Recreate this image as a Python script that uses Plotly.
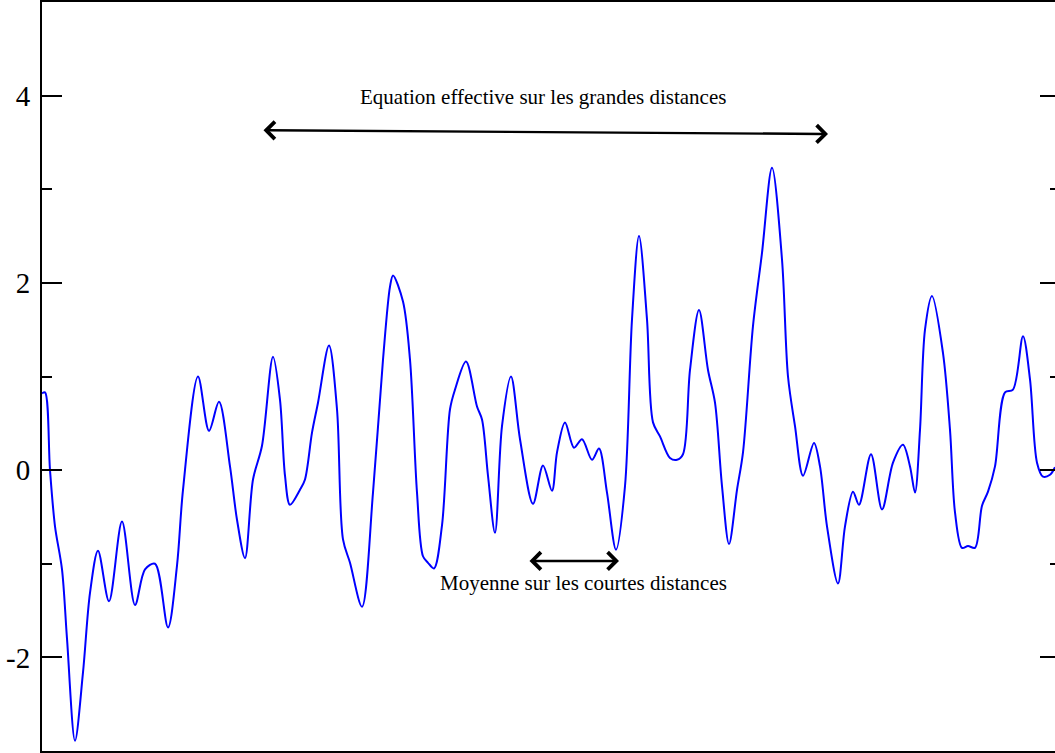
import plotly.graph_objects as go

# Signal sampled along the horizontal axis (arbitrary units)
x_pos = [0, 3, 8, 13, 20, 25, 33, 41, 48, 56, 67, 80, 93, 103, 113, 126, 135, 141, 156, 167,
         177, 188, 195, 203, 211, 220, 231, 238, 243, 248, 258, 263, 270, 276, 287, 295, 301, 308,
         320, 331, 341, 348, 351, 361, 368, 375, 381, 386, 392, 400, 408, 413, 424, 435, 440, 446,
         453, 460, 469, 478, 491, 501, 510, 515, 523, 532, 540, 550, 557, 565, 574, 583, 590, 597,
         605, 611, 618, 628, 635, 641, 648, 657, 666, 673, 680, 687, 695, 701, 711, 720, 730, 740,
         746, 753, 761, 772, 778, 785, 796, 803, 811, 817, 829, 840, 851, 861, 868, 873, 878, 883,
         890, 901, 908, 913, 920, 926, 933, 940, 946, 953, 963, 971, 981, 988, 995, 1001, 1008, 1013]
signal = [0.82, 0.83, 0.0, -0.6, -1.06, -1.8, -2.89, -2.16, -1.31, -0.86, -1.40, -0.55, -1.44,
          -1.06, -1.0, -1.68, -1.02, -0.21, 1.0, 0.42, 0.73, 0.04, -0.53, -0.94, -0.10, 0.26, 1.21,
          0.75, -0.06, -0.37, -0.21, -0.10, 0.40, 0.72, 1.33, 0.65, -0.74, -0.99, -1.46, -0.24, 1.18,
          1.96, 2.08, 1.80, 1.18, -0.24, -0.92, -0.99, -1.05, -0.59, 0.65, 0.86, 1.16, 0.68, 0.54,
          -0.06, -0.67, 0.47, 1.0, 0.33, -0.36, 0.05, -0.22, 0.19, 0.51, 0.24, 0.33, 0.11, 0.23,
          -0.24, -0.85, -0.17, 1.61, 2.50, 1.61, 0.51, 0.36, 0.13, 0.11, 0.17, 1.07, 1.71, 1.07,
          0.72, -0.17, -0.79, -0.21, 0.19, 1.54, 2.32, 3.23, 2.25, 1.0, 0.47, -0.06, 0.29, 0.04,
          -0.60, -1.21, -0.60, -0.23, -0.37, 0.17, -0.42, 0.08, 0.27, 0.04, -0.24, 0.43, 1.50, 1.86,
          1.25, 0.43, -0.45, -0.83, -0.81, -0.83, -0.38, -0.23, 0.04, 0.83, 0.86, 1.43, 0.97, 0.08,
          -0.07, -0.05, 0.03]

y_major = [-2, 0, 2, 4]
y_labels = ["-2", "0", "2", "4"]
y_minor = [-1, 1, 3]
y_range = [-3, 5]
x_range = [0, 1013]

label_long = "Equation effective sur les grandes distances"
label_short = "Moyenne sur les courtes distances"

serif = "Liberation Serif, Times New Roman, serif"

fig = go.Figure()
fig.add_trace(go.Scatter(x=x_pos, y=signal, mode="lines",
                         line=dict(color="#0000ff", width=2, shape="spline", smoothing=0.9),
                         hoverinfo="skip", showlegend=False))
# empty trace so that the right-hand tick axis is drawn
fig.add_trace(go.Scatter(x=[None], y=[None], yaxis="y2", mode="lines",
                         hoverinfo="skip", showlegend=False))

fig.update_layout(
    width=1055, height=753,
    margin=dict(l=42, r=0, t=2, b=2),
    paper_bgcolor="white", plot_bgcolor="white",
    showlegend=False,
    xaxis=dict(range=x_range, showgrid=False, zeroline=False, showticklabels=False,
               ticks="", showline=True, linecolor="black", linewidth=2, mirror=True),
    yaxis=dict(range=y_range, showgrid=False, zeroline=False,
               tickmode="array", tickvals=y_major, ticktext=y_labels,
               ticks="inside", ticklen=20, tickwidth=2, tickcolor="black",
               tickfont=dict(family=serif, size=29, color="black"),
               ticklabelstandoff=4,
               minor=dict(tickmode="array", tickvals=y_minor, ticks="inside",
                          ticklen=10, tickwidth=2, tickcolor="black"),
               showline=True, linecolor="black", linewidth=2),
    yaxis2=dict(range=y_range, overlaying="y", side="right", showgrid=False, zeroline=False,
                tickmode="array", tickvals=y_major, showticklabels=False,
                ticks="inside", ticklen=15, tickwidth=2, tickcolor="black",
                minor=dict(tickmode="array", tickvals=y_minor, ticks="inside",
                           ticklen=5, tickwidth=2, tickcolor="black"),
                showline=False),
)

# double-headed arrows
fig.add_annotation(x=786, y=3.59, ax=220, ay=3.63, xref="x", yref="y", axref="x", ayref="y",
                   text="", showarrow=True, arrowhead=4, startarrowhead=4, arrowside="end+start",
                   arrowwidth=2.4, arrowsize=1.4, startarrowsize=1.4, arrowcolor="black")
fig.add_annotation(x=577, y=-0.97, ax=486, ay=-0.97, xref="x", yref="y", axref="x", ayref="y",
                   text="", showarrow=True, arrowhead=4, startarrowhead=4, arrowside="end+start",
                   arrowwidth=2.4, arrowsize=1.4, startarrowsize=1.4, arrowcolor="black")

fig.add_annotation(x=501, y=3.99, xref="x", yref="y", text=label_long, showarrow=False,
                   font=dict(family=serif, size=21, color="black"))
fig.add_annotation(x=541, y=-1.21, xref="x", yref="y", text=label_short, showarrow=False,
                   font=dict(family=serif, size=21, color="black"))

fig.write_html("out.html")
